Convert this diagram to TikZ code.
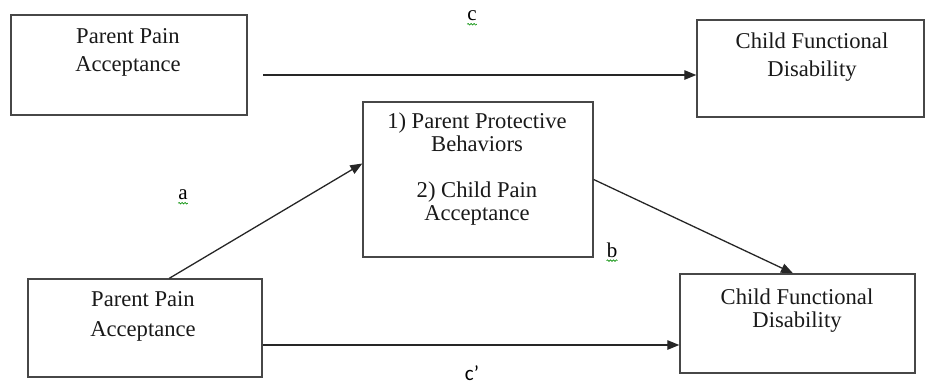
\documentclass[tikz,border=0pt]{standalone}
\usepackage{fontspec}
\setmainfont{Liberation Serif}
\newfontfamily\labfont{Carlito}
\usetikzlibrary{arrows.meta,decorations.pathmorphing}
\begin{document}
\begin{tikzpicture}[x=1pt,y=-1pt,
  box/.style={draw=black!72, line width=1.4pt, inner sep=0pt},
  txt/.style={inner sep=0pt, align=center, text=black!90, font=\fontsize{22.6}{#1}\selectfont},
  arr/.style={draw=black!85, line width=1.3pt, -{Triangle[length=12pt,width=9.5pt]}},
  lab/.style={inner sep=0pt, font=\fontsize{21}{24}\selectfont},
  squig/.style={draw=green!55!black, line width=0.6pt, decorate,
    decoration={snake, segment length=3pt, amplitude=0.8pt}}]
\useasboundingbox (0,0) rectangle (926,384);
% boxes
\node[box, minimum width=236pt, minimum height=100pt] (b1) at (129,65) {};
\node[box, minimum width=227pt, minimum height=97pt] (b2) at (810.5,68.5) {};
\node[box, minimum width=230pt, minimum height=155pt] (b3) at (478,179.5) {};
\node[box, minimum width=234pt, minimum height=98pt] (b4) at (145,328) {};
\node[box, minimum width=235pt, minimum height=99pt] (b5) at (797.5,323.5) {};
% texts
\node[txt=28pt] (t1) at (128,52) {Parent Pain\\Acceptance};
\node[txt=28pt] (t2) at (812,57) {Child Functional\\Disability};
\node[txt=23.2pt] (t3) at (477,169) {1) Parent Protective\\Behaviors\\[23.2pt]2) Child Pain\\Acceptance};
\node[txt=30pt] (t4) at (143,316) {Parent Pain\\Acceptance};
\node[txt=23pt] (t5) at (797,311) {Child Functional\\Disability};
% connectors
\coordinate (cs) at (263,75);
\draw[arr] (cs) -- (cs -| b2.west);
\draw[arr] ([xshift=142pt]b4.north west) -- ([yshift=16pt]b3.west);
\draw[arr] (b3.east) -- ([xshift=-4.5pt]b5.north);
\coordinate (cps) at ([yshift=-17pt]b4.east);
\draw[arr] (cps) -- (cps -| b5.west);
% labels
\node[lab] (lc) at (472,16) {c};
\node[lab] (la) at (183,195) {a};
\node[lab] (lb) at (612,250) {b};
\node[lab, font=\labfont\fontsize{21}{24}\selectfont] (lcp) at (472,373) {c’};
\draw[squig] ([yshift=-3pt]lc.south west) -- ([yshift=-3pt]lc.south east);
\draw[squig] ([yshift=-3pt]la.south west) -- ([yshift=-3pt]la.south east);
\draw[squig] ([yshift=-3pt]lb.south west) -- ([yshift=-3pt]lb.south east);
\end{tikzpicture}
\end{document}
